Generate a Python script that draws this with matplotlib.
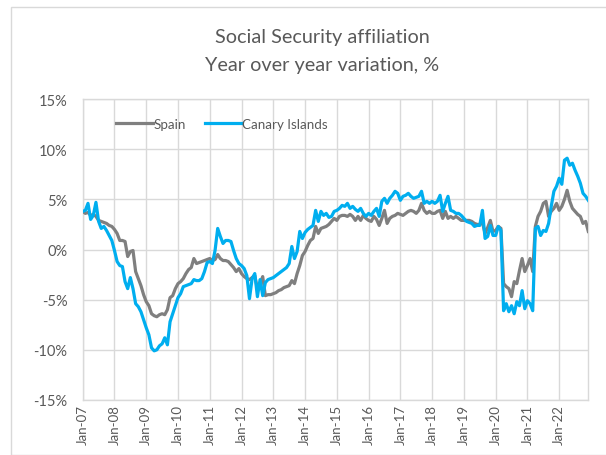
import numpy as np
import matplotlib
matplotlib.use('Agg')
import matplotlib.pyplot as plt
from matplotlib.patches import Rectangle

# Monthly year-over-year variation (%), Jan-07 .. Dec-22, one row per year
spain = [
    3.8, 3.6, 3.7, 3.4, 3.5, 3.3, 2.9, 2.8, 2.7, 2.6, 2.4, 2.3,            # 2007
    2.0, 1.6, 0.9, 0.9, 0.8, -0.7, -0.2, -0.1, -2.2, -2.9, -3.6, -4.5,     # 2008
    -5.2, -5.6, -6.4, -6.6, -6.7, -6.5, -6.4, -6.5, -6.0, -4.8, -4.6, -3.9,  # 2009
    -3.4, -3.2, -2.9, -2.4, -2.0, -1.8, -0.9, -1.4, -1.3, -1.2, -1.1, -1.0,  # 2010
    -0.9, -1.1, -1.0, -0.5, -0.9, -1.1, -1.1, -1.2, -1.5, -1.8, -2.2, -1.9,  # 2011
    -2.4, -2.7, -2.9, -3.0, -2.8, -2.6, -3.9, -3.4, -2.7, -4.6, -4.5, -4.5,  # 2012
    -4.4, -4.3, -4.1, -4.0, -3.8, -3.7, -3.6, -3.1, -3.4, -2.4, -1.6, -0.6,  # 2013
    -0.2, 0.4, 0.9, 1.1, 2.3, 1.6, 2.1, 2.2, 2.3, 2.5, 2.8, 3.1,           # 2014
    2.9, 3.3, 3.4, 3.4, 3.3, 3.5, 3.3, 2.9, 3.3, 2.9, 3.4, 3.1,            # 2015
    2.9, 2.8, 3.3, 3.0, 2.4, 3.1, 3.9, 2.6, 3.1, 3.3, 3.4, 3.6,            # 2016
    3.5, 3.4, 3.6, 3.8, 3.9, 3.8, 3.6, 3.9, 4.6, 3.9, 3.6, 3.8,            # 2017
    3.6, 3.6, 3.8, 3.9, 3.1, 3.8, 3.1, 3.3, 3.1, 3.3, 3.1, 2.9,            # 2018
    2.9, 2.9, 2.9, 2.8, 2.6, 2.5, 2.5, 2.7, 1.6, 2.2, 2.9, 1.8,            # 2019
    1.9, 2.3, 2.1, -3.4, -3.7, -3.9, -4.7, -3.2, -3.4, -2.1, -0.9, -2.2,   # 2020
    -1.6, -0.9, -2.2, 2.3, 3.3, 3.8, 4.6, 4.8, 3.3, 3.8, 4.1, 4.6,         # 2021
    3.9, 4.3, 5.0, 5.9, 4.8, 4.1, 3.8, 3.5, 3.3, 2.6, 2.8, 1.8,            # 2022
]
canary = [
    3.8, 3.9, 4.6, 3.0, 3.4, 4.7, 2.8, 2.1, 2.3, 1.9, 1.4, 0.9,            # 2007
    -0.1, -1.2, -1.6, -1.7, -3.2, -3.9, -2.8, -3.9, -5.4, -5.7, -6.2, -7.0,  # 2008
    -7.8, -8.5, -9.8, -10.1, -10.0, -9.6, -9.4, -8.8, -9.5, -7.2, -6.4, -5.6,  # 2009
    -4.8, -4.4, -3.7, -3.6, -3.5, -3.4, -3.0, -3.1, -3.1, -2.9, -2.2, -1.3,  # 2010
    -1.2, -1.4, -0.1, 2.1, 1.3, 0.6, 0.9, 0.9, 0.8, -0.1, -0.9, -1.4,      # 2011
    -1.6, -1.9, -2.6, -4.9, -2.9, -2.4, -4.7, -3.0, -4.6, -3.3, -3.0, -2.9,  # 2012
    -2.8, -2.6, -2.4, -2.2, -2.0, -1.8, -1.4, 0.3, -0.9, -0.2, 1.8, 1.1,   # 2013
    1.7, 2.0, 2.2, 2.4, 3.9, 2.8, 3.8, 3.4, 3.6, 3.2, 3.3, 3.8,            # 2014
    3.9, 4.1, 4.4, 4.3, 4.6, 4.1, 4.3, 4.0, 3.8, 4.1, 3.6, 3.3,            # 2015
    3.6, 3.4, 3.8, 4.1, 3.3, 4.8, 5.1, 4.6, 5.1, 5.4, 5.8, 5.6,            # 2016
    4.9, 5.3, 5.4, 5.6, 5.3, 5.1, 5.2, 5.3, 5.8, 4.6, 4.8, 4.6,            # 2017
    4.8, 4.6, 4.8, 5.4, 3.8, 4.6, 5.3, 3.9, 3.8, 3.6, 3.6, 3.4,            # 2018
    3.1, 2.8, 2.7, 2.6, 2.3, 2.4, 2.4, 3.9, 1.1, 1.3, 2.4, 1.4,            # 2019
    1.4, 2.3, 1.9, -6.1, -5.4, -6.2, -5.6, -6.4, -5.2, -5.6, -4.1, -5.9,   # 2020
    -5.1, -5.4, -6.1, 2.1, 2.3, 1.4, 1.9, 1.8, 2.6, 4.3, 5.8, 6.3,         # 2021
    7.1, 6.5, 8.9, 9.1, 8.4, 8.6, 7.9, 7.3, 6.6, 5.6, 5.3, 4.9,            # 2022
]
tick_labels = ['Jan-07', 'Jan-08', 'Jan-09', 'Jan-10', 'Jan-11', 'Jan-12',
               'Jan-13', 'Jan-14', 'Jan-15', 'Jan-16', 'Jan-17', 'Jan-18',
               'Jan-19', 'Jan-20', 'Jan-21', 'Jan-22']
y_ticks = [-15, -10, -5, 0, 5, 10, 15]

plt.rcParams['font.family'] = ['Lato', 'DejaVu Sans']
TXT = '#595959'
GRID = '#D9D9D9'

months = np.arange(len(spain))

fig = plt.figure(figsize=(6.06, 4.56), dpi=100)
fig.patches.append(Rectangle((11 / 606, 0), 1.0, 1 - 7.5 / 456,
                             transform=fig.transFigure, fill=False,
                             edgecolor=GRID, linewidth=1.0))
ax = fig.add_axes([82.7 / 606, 1 - 401 / 456, 505.6 / 606, 301 / 456])

ax.plot(months, spain, color='#7F7F7F', linewidth=2.3, label='Spain',
        solid_joinstyle='round', zorder=3)
ax.plot(months, canary, color='#00AEEF', linewidth=2.3, label='Canary Islands',
        solid_joinstyle='round', zorder=4)

ax.set_xlim(0, len(spain) - 1)
ax.set_ylim(-15, 15)
ax.set_xticks(np.arange(len(tick_labels)) * 12)
ax.set_xticklabels(tick_labels, rotation=90, fontsize=9.5, color=TXT)
ax.set_yticks(y_ticks)
ax.set_yticklabels([f'{v}%' for v in y_ticks], fontsize=10.5, color=TXT)
ax.tick_params(length=0, pad=11)
ax.tick_params(axis='x', pad=3)
ax.grid(True, color=GRID, linewidth=1.0)
ax.set_axisbelow(True)
for s in ax.spines.values():
    s.set_color(GRID)
    s.set_linewidth(1.0)

ax.legend(ncol=2, frameon=False, loc='center left',
          bbox_to_anchor=((116.5 - 82.7) / 505.6, (401 - 125) / 301),
          borderpad=0, borderaxespad=0, handlelength=2.7,
          handletextpad=0.1, columnspacing=1.4, fontsize=9.6,
          labelcolor=TXT)

fig.text(322 / 606, 1 - 38 / 456, 'Social Security affiliation',
         ha='center', va='center', fontsize=14.3, color=TXT)
fig.text(322 / 606, 1 - 65 / 456, 'Year over year variation, %',
         ha='center', va='center', fontsize=14.3, color=TXT)

fig.savefig('out.png', dpi=100)
